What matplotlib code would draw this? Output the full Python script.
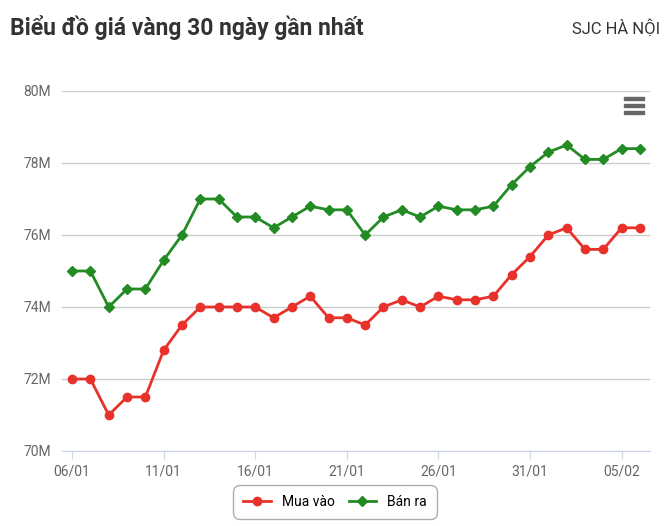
import matplotlib
matplotlib.use("Agg")
import matplotlib.pyplot as plt
import numpy as np

dates = ["06/01","07/01","08/01","09/01","10/01","11/01","12/01","13/01","14/01","15/01","16/01",
         "17/01","18/01","19/01","20/01","21/01","22/01","23/01","24/01","25/01","26/01","27/01",
         "28/01","29/01","30/01","31/01","01/02","02/02","03/02","04/02","05/02","06/02"]
mua_vao = [72,72,71,71.5,71.5,72.8,73.5,74,74,74,74,73.7,74,74.3,73.7,73.7,73.5,74,74.2,74,
           74.3,74.2,74.2,74.3,74.9,75.4,76,76.2,75.6,75.6,76.2,76.2]
ban_ra = [75,75,74,74.5,74.5,75.3,76,77,77,76.5,76.5,76.2,76.5,76.8,76.7,76.7,76,76.5,76.7,76.5,
          76.8,76.7,76.7,76.8,77.4,77.9,78.3,78.5,78.1,78.1,78.4,78.4]
yticks = [70,72,74,76,78,80]
ytick_labels = ["70M","72M","74M","76M","78M","80M"]

plt.rcParams['font.family'] = ['Roboto', 'DejaVu Sans']
fig = plt.figure(figsize=(6.72,5.26), dpi=100)
ax = fig.add_axes([62/672, 1-451/526, (650-62)/672, 360/526])
x = np.arange(len(dates))
ax.plot(x, mua_vao, color="#e8312a", lw=2, marker="o", ms=6, label="Mua vào")
ax.plot(x, ban_ra, color="#238b23", lw=2, marker="D", ms=5, label="Bán ra")
ax.set_ylim(70,80)
ax.set_xlim(-0.55, len(dates)-0.45)
ax.set_yticks(yticks)
ax.set_yticklabels(ytick_labels, color="#666666", fontsize=10)
tick_idx = list(range(0, len(dates), 5))
ax.set_xticks(tick_idx)
ax.set_xticklabels([dates[i] for i in tick_idx], color="#666666", fontsize=10)
ax.grid(axis="y", color="#cccccc", lw=1)
ax.set_axisbelow(True)
for s in ["top","right","left"]:
    ax.spines[s].set_visible(False)
ax.spines["bottom"].set_color("#ccd6eb")
ax.tick_params(axis="y", length=0, pad=8)
ax.tick_params(axis="x", length=6, color="#ccd6eb")
fig.text(10/672, 1-28/526, "Biểu đồ giá vàng 30 ngày gần nhất", fontsize=16.5, fontweight="bold",
         color="#333333", va="center")
fig.text(660/672, 1-28/526, "SJC HÀ NỘI", fontsize=12, color="#333333", va="center", ha="right")
for dy in (-7, 0, 7):
    fig.patches.append(plt.Rectangle((624/672, 1-(105+dy+1.5)/526), 20/672, 3/526,
                                     transform=fig.transFigure, color="#666666"))
leg = fig.legend(loc="center", bbox_to_anchor=(335/672, 1-502/526), ncol=2, frameon=True,
                 fontsize=10, handlelength=2, columnspacing=1)
leg.get_frame().set_edgecolor("#999999")
leg.get_frame().set_boxstyle("round,pad=0.3,rounding_size=0.5")
fig.savefig("out.png", dpi=100)
